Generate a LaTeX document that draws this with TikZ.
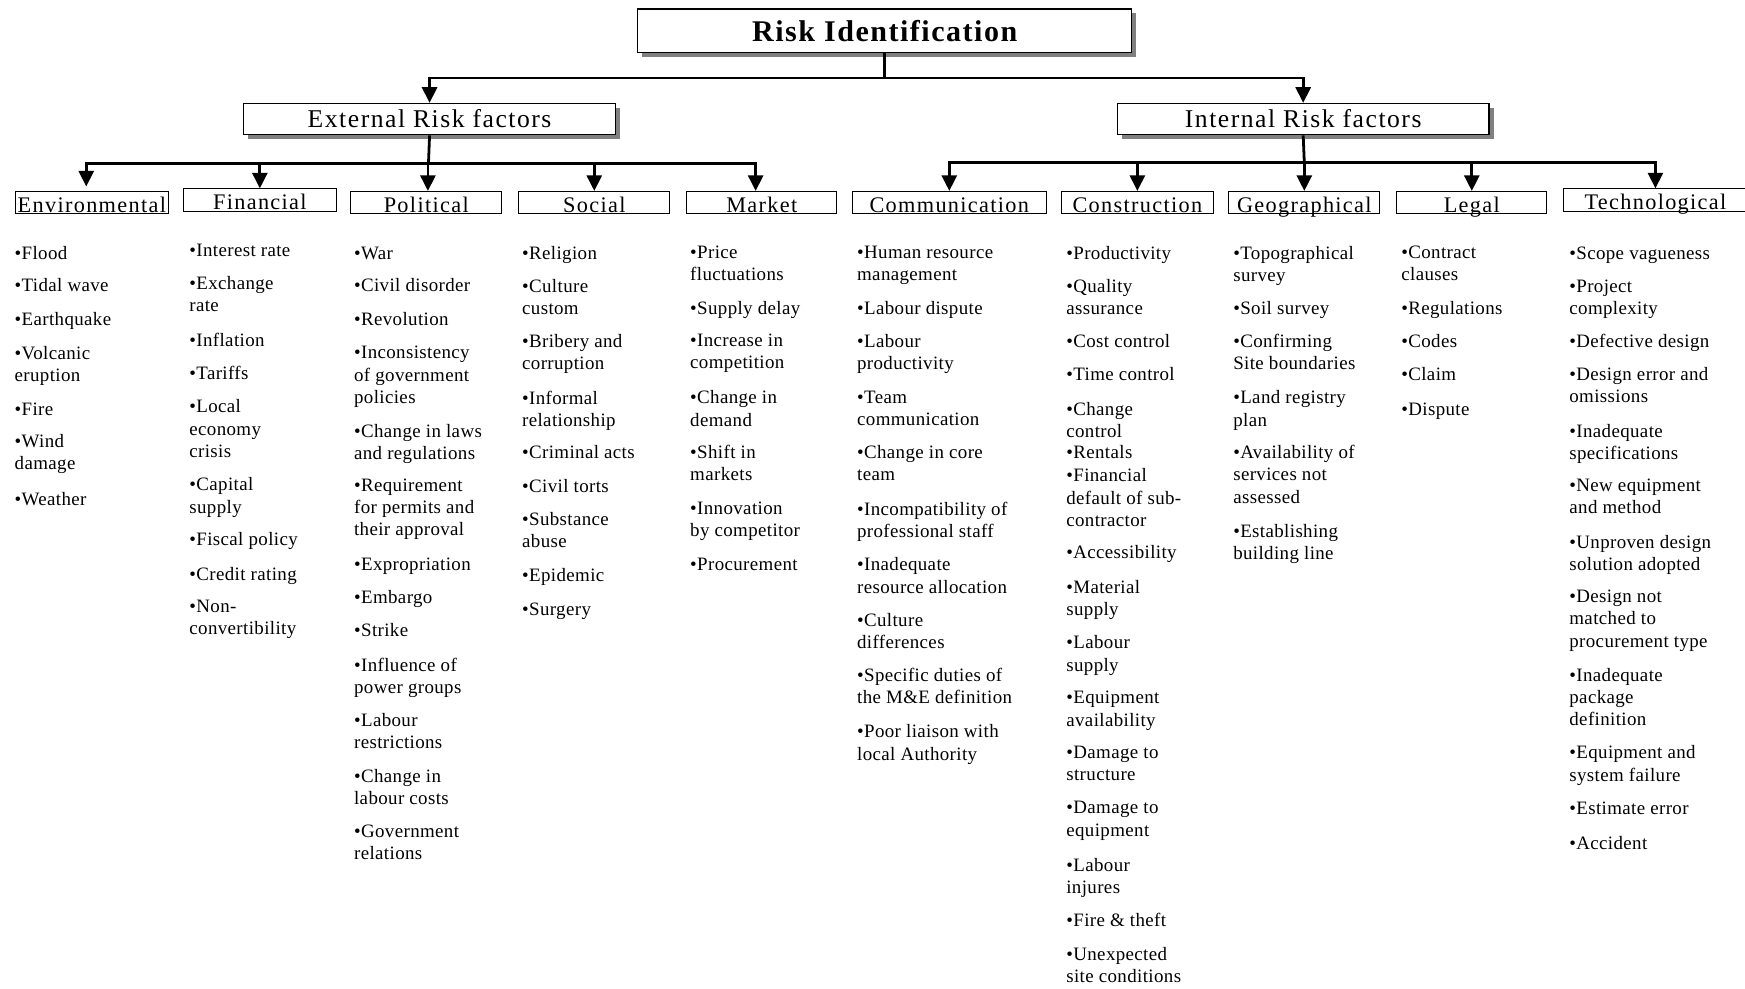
\documentclass[tikz,border=0pt]{standalone}
\usepackage{fontspec}
\setmainfont{Liberation Serif}
\newfontfamily\bodyfont[LetterSpace=2]{Liberation Serif}
\newfontfamily\hdfont[LetterSpace=6]{Liberation Serif}
\newfontfamily\titlefont[LetterSpace=5]{Liberation Serif}
\usetikzlibrary{arrows.meta,shadows}
\begin{document}
\begin{tikzpicture}[x=1pt,y=-1pt,
  conn/.style={line width=2.5pt,line join=miter},
  tip/.tip={Triangle[width=13.5pt,length=14pt]},
  arr/.style={line width=2.5pt,line join=miter,-tip},
  arrs/.style={line width=2.5pt,line join=miter,tip-tip},
  topbox/.style={draw,line width=1.2pt,fill=white,inner sep=0pt,
     drop shadow={shadow xshift=4pt,shadow yshift=-4pt,fill=black!50,opacity=1}},
  catbox/.style={draw,line width=0.9pt,inner sep=0pt,minimum height=20pt,
     text height=17pt,text depth=0pt,font=\hdfont\fontsize{20}{22}\selectfont},
  item/.style={anchor=north west,yshift=12pt,inner sep=0pt,align=left,
     execute at begin node={\rule{0pt}{12pt}},
     font=\bodyfont\fontsize{17}{20}\selectfont}
]
\fill[white] (0,0) rectangle (1568,888);
\clip (0,0) rectangle (1568,888);

% top levels
\node[topbox,minimum width=444pt,minimum height=39pt,font=\titlefont\bfseries\fontsize{27}{30}\selectfont] (title) at (795,27.5) {Risk Identification};
\node[topbox,minimum width=334pt,minimum height=28pt,font=\hdfont\fontsize{23}{25}\selectfont] (ext) at (386,107) {External Risk factors};
\node[topbox,minimum width=334pt,minimum height=28pt,font=\hdfont\fontsize{23}{25}\selectfont] (int) at (1171,107) {Internal Risk factors};

% categories
\node[catbox,minimum width=137pt] (env) at (82.5,182) {Environmental};
\node[catbox,minimum width=137pt] (fin) at (233.5,179.7) {Financial};
\node[catbox,minimum width=136pt] (pol) at (383,182) {Political};
\node[catbox,minimum width=136pt] (soc) at (534,182) {Social};
\node[catbox,minimum width=135pt] (mkt) at (684.5,182) {Market};
\node[catbox,minimum width=174pt] (com) at (853,182) {Communication};
\node[catbox,minimum width=136pt] (con) at (1022,182) {Construction};
\node[catbox,minimum width=136pt] (geo) at (1172,182) {Geographical};
\node[catbox,minimum width=135pt] (leg) at (1322.5,182) {Legal};
\node[catbox,minimum width=165pt] (tec) at (1487.5,179.7) {Technological};

% connectors
\coordinate (th) at (795,70);
\coordinate (eh) at (385,147);
\coordinate (ih) at (1172,146);
\draw[conn] (title.south) -- (th);
\draw[arrs] (ext.north) -- (ext.north |- th) -- (int.north |- th) -- (int.north);
\draw[conn] (ext.south) -- (eh);
\draw[arrs] ([xshift=-5pt,yshift=4pt]env.north) -- ([xshift=-5pt]env.north |- eh) -- ([xshift=-5.5pt]mkt.north |- eh) -- ([xshift=-5.5pt]mkt.north);
\draw[arr] (fin.north |- eh) -- (fin.north);
\draw[arr] ([xshift=1.5pt]pol.north |- eh) -- ([xshift=1.5pt]pol.north);
\draw[arr] (soc.north |- eh) -- (soc.north);
\draw[conn] (int.south) -- (ih);
\draw[arrs] (com.north) -- (com.north |- ih) -- (tec.north |- ih) -- (tec.north);
\draw[arr] (con.north |- ih) -- (con.north);
\draw[arr] (geo.north |- ih) -- (geo.north);
\draw[arr] (leg.north |- ih) -- (leg.north);

% Environmental
\node[item] (e1) at (13,233) {•Flood};
\node[item] (e2) at (13,262) {•Tidal wave};
\node[item] (e3) at (13,292) {•Earthquake};
\node[item] (e4) at (13,323) {•Volcanic\\eruption};
\node[item] (e5) at (13,373) {•Fire};
\node[item] (e6) at (13,402) {•Wind\\damage};
\node[item] (e7) at (13,454) {•Weather};

% Financial
\node[item] (f1) at (170,230) {•Interest rate};
\node[item] (f2) at (170,260) {•Exchange\\rate};
\node[item] (f3) at (170,311) {•Inflation};
\node[item] (f4) at (170,341) {•Tariffs};
\node[item] (f5) at (170,371) {•Local\\economy\\crisis};
\node[item] (f6) at (170,441) {•Capital\\supply};
\node[item] (f7) at (170,490) {•Fiscal policy};
\node[item] (f8) at (170,521) {•Credit rating};
\node[item] (f9) at (170,551) {•Non-\\convertibility};

% Political
\node[item] (p1) at (318,233) {•War};
\node[item] (p2) at (318,262) {•Civil disorder};
\node[item] (p3) at (318,292) {•Revolution};
\node[item] (p4) at (318,323) {•Inconsistency\\of government\\policies};
\node[item] (p5) at (318,393) {•Change in laws\\and regulations};
\node[item] (p6) at (318,442) {•Requirement\\for permits and\\their approval};
\node[item] (p7) at (318,512) {•Expropriation};
\node[item] (p8) at (318,542) {•Embargo};
\node[item] (p9) at (318,572) {•Strike};
\node[item] (p10) at (318,603) {•Influence of\\power groups};
\node[item] (p11) at (318,653) {•Labour\\restrictions};
\node[item] (p12) at (318,703) {•Change in\\labour costs};
\node[item] (p13) at (318,753) {•Government\\relations};

% Social
\node[item] (s1) at (469,233) {•Religion};
\node[item] (s2) at (469,263) {•Culture\\custom};
\node[item] (s3) at (469,312) {•Bribery and\\corruption};
\node[item] (s4) at (469,363) {•Informal\\relationship};
\node[item] (s5) at (469,412) {•Criminal acts};
\node[item] (s6) at (469,442) {•Civil torts};
\node[item] (s7) at (469,472) {•Substance\\abuse};
\node[item] (s8) at (469,522) {•Epidemic};
\node[item] (s9) at (469,553) {•Surgery};

% Market
\node[item] (m1) at (620,233) {•Price\\fluctuations};
\node[item] (m2) at (620,282) {•Supply delay};
\node[item] (m3) at (620,312) {•Increase in\\competition};
\node[item] (m4) at (620,363) {•Change in\\demand};
\node[item] (m5) at (620,412) {•Shift in\\markets};
\node[item] (m6) at (620,463) {•Innovation\\by competitor};
\node[item] (m7) at (620,512) {•Procurement};

% Communication
\node[item] (c1) at (770,233) {•Human resource\\management};
\node[item] (c2) at (770,282) {•Labour dispute};
\node[item] (c3) at (770,312) {•Labour\\productivity};
\node[item] (c4) at (770,363) {•Team\\communication};
\node[item] (c5) at (770,412) {•Change in core\\team};
\node[item] (c6) at (770,463) {•Incompatibility of\\professional staff};
\node[item] (c7) at (770,513) {•Inadequate\\resource allocation};
\node[item] (c8) at (770,563) {•Culture\\differences};
\node[item] (c9) at (770,612) {•Specific duties of\\the M\&E definition};
\node[item] (c10) at (770,663) {•Poor liaison with\\local Authority};

% Construction
\node[item] (k1) at (958,233) {•Productivity};
\node[item] (k2) at (958,263) {•Quality\\assurance};
\node[item] (k3) at (958,312) {•Cost control};
\node[item] (k4) at (958,342) {•Time control};
\node[item] (k5) at (958,373) {•Change\\control};
\node[item] (k6) at (958,412) {•Rentals};
\node[item] (k7) at (958,433) {•Financial\\default of sub-\\contractor};
\node[item] (k8) at (958,502) {•Accessibility};
\node[item] (k9) at (958,533) {•Material\\supply};
\node[item] (k10) at (958,583) {•Labour\\supply};
\node[item] (k11) at (958,633) {•Equipment\\availability};
\node[item] (k12) at (958,682) {•Damage to\\structure};
\node[item] (k13) at (958,732) {•Damage to\\equipment};
\node[item] (k14) at (958,783) {•Labour\\injures};
\node[item] (k15) at (958,832) {•Fire \& theft};
\node[item] (k16) at (958,863) {•Unexpected\\site conditions};

% Geographical
\node[item] (g1) at (1108,233) {•Topographical\\survey};
\node[item] (g2) at (1108,282) {•Soil survey};
\node[item] (g3) at (1108,312) {•Confirming\\Site boundaries};
\node[item] (g4) at (1108,363) {•Land registry\\plan};
\node[item] (g5) at (1108,412) {•Availability of\\services not\\assessed};
\node[item] (g6) at (1108,483) {•Establishing\\building line};

% Legal
\node[item] (l1) at (1259,233) {•Contract\\clauses};
\node[item] (l2) at (1259,282) {•Regulations};
\node[item] (l3) at (1259,312) {•Codes};
\node[item] (l4) at (1259,342) {•Claim};
\node[item] (l5) at (1259,373) {•Dispute};

% Technological
\node[item] (t1) at (1410,233) {•Scope vagueness};
\node[item] (t2) at (1410,263) {•Project\\complexity};
\node[item] (t3) at (1410,312) {•Defective design};
\node[item] (t4) at (1410,342) {•Design error and\\omissions};
\node[item] (t5) at (1410,393) {•Inadequate\\specifications};
\node[item] (t6) at (1410,442) {•New equipment\\and method};
\node[item] (t7) at (1410,493) {•Unproven design\\solution adopted};
\node[item] (t8) at (1410,542) {•Design not\\matched to\\procurement type};
\node[item] (t9) at (1410,612) {•Inadequate\\package\\definition};
\node[item] (t10) at (1410,682) {•Equipment and\\system failure};
\node[item] (t11) at (1410,732) {•Estimate error};
\node[item] (t12) at (1410,763) {•Accident};
\end{tikzpicture}
\end{document}
